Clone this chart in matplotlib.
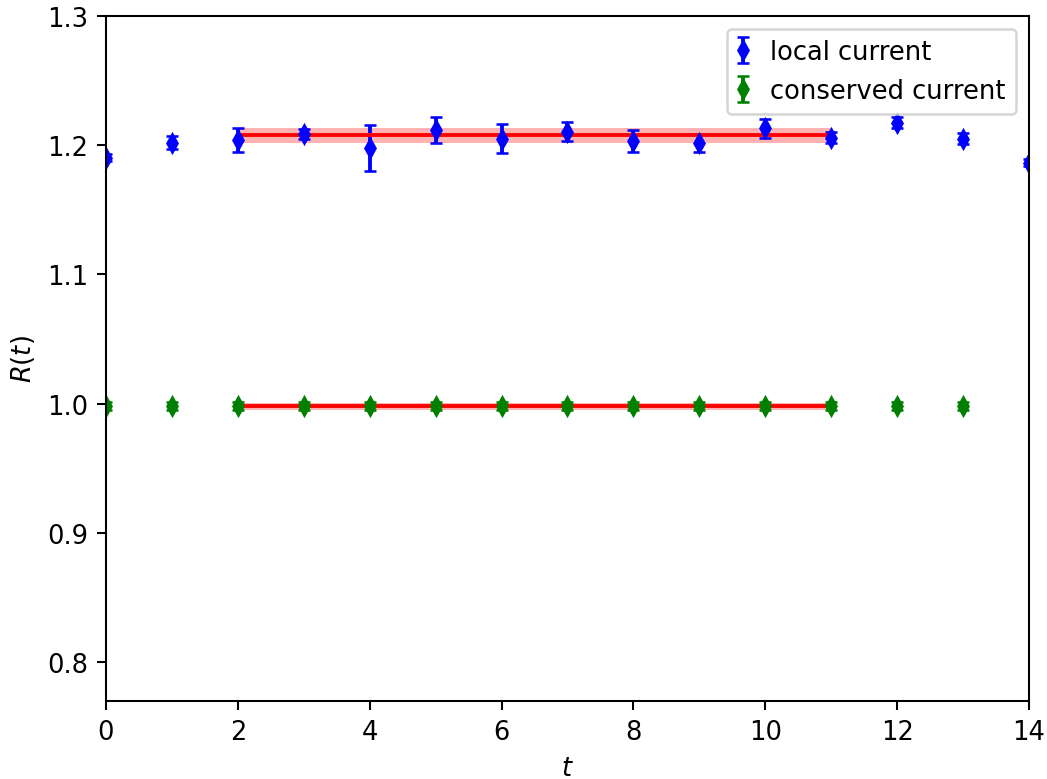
import numpy as np
import matplotlib
matplotlib.use("Agg")
import matplotlib.pyplot as plt

# ratio R(t) for each time slice
t = np.arange(15)
r_local = [1.1905, 1.2021, 1.2041, 1.2085, 1.1977, 1.2118, 1.2052, 1.2106,
           1.2033, 1.2015, 1.2131, 1.2059, 1.2175, 1.2052, 1.1866]
err_local = [0.003, 0.005, 0.009, 0.004, 0.018, 0.010, 0.0115, 0.0072,
             0.0082, 0.0070, 0.0072, 0.004, 0.004, 0.004, 0.003]

t_cons = np.arange(14)
r_cons = [0.998] * 14
err_cons = [0.003] * 14

# constant fits over the plateau
fit_range = (2, 11)
fit_local, fit_local_err = 1.2077, 0.006
fit_cons, fit_cons_err = 0.998, 0.0025

dpi = 185
fig = plt.figure(figsize=(1047 / dpi, 780 / dpi), dpi=dpi)
ax = fig.add_axes([0.1012, 0.1, 0.8816, 0.8782])

ax.errorbar(t, r_local, yerr=err_local, fmt='d', color='blue', capsize=2.5,
            markersize=5, label='local current')
ax.errorbar(t_cons, r_cons, yerr=err_cons, fmt='d', color='green', capsize=2.5,
            markersize=5, label='conserved current')

xs = np.array(fit_range)
for val, e in [(fit_local, fit_local_err), (fit_cons, fit_cons_err)]:
    ax.plot(xs, [val, val], color='red', lw=1.5)
    ax.fill_between(xs, val - e, val + e, color='red', alpha=0.3, lw=0)

ax.set_xlim(0, 14)
ax.set_ylim(0.77, 1.3)
ax.set_xlabel('$t$')
ax.set_ylabel('$R(t)$')
ax.legend(loc='upper right', handlelength=0.5)

fig.savefig('out.png', dpi=dpi)
